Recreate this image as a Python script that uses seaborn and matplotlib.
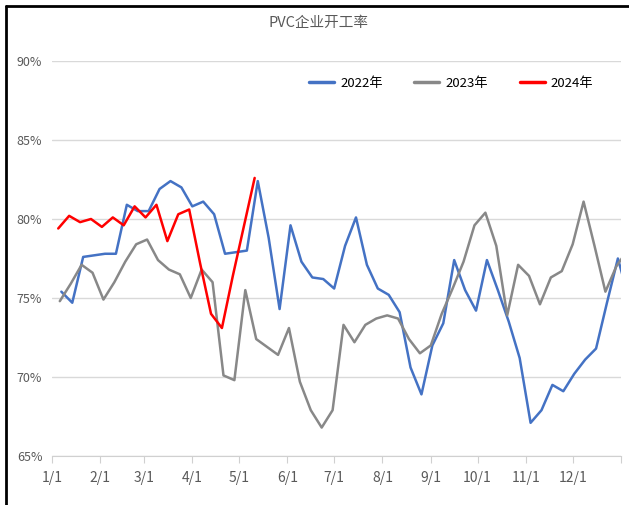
import numpy as np
import pandas as pd
import seaborn as sns
import matplotlib.pyplot as plt
from matplotlib.lines import Line2D

# weekly operating rate of PVC plants (%)
start_dates = {"2022年": "2022-01-07", "2023年": "2023-01-06", "2024年": "2024-01-05"}

rate_2022 = [75.4, 74.7, 77.6, 77.7, 77.8, 77.8, 80.9, 80.5, 80.5, 81.9,
             82.4, 82.0, 80.8, 81.1, 80.3, 77.8, 77.9, 78.0, 82.4, 78.8,
             74.3, 79.6, 77.3, 76.3, 76.2, 75.6, 78.3, 80.1, 77.1, 75.6,
             75.2, 74.1, 70.6, 68.9, 72.0, 73.4, 77.4, 75.5, 74.2, 77.4,
             75.5, 73.5, 71.2, 67.1, 67.9, 69.5, 69.1, 70.2, 71.1, 71.8,
             74.7, 77.5, 75.0]
rate_2023 = [74.8, 75.9, 77.1, 76.6, 74.9, 76.0, 77.3, 78.4, 78.7, 77.4,
             76.8, 76.5, 75.0, 76.8, 76.0, 70.1, 69.8, 75.5, 72.4, 71.9,
             71.4, 73.1, 69.7, 67.9, 66.8, 67.9, 73.3, 72.2, 73.3, 73.7,
             73.9, 73.7, 72.4, 71.5, 72.0, 74.0, 75.6, 77.3, 79.6, 80.4,
             78.3, 73.9, 77.1, 76.4, 74.6, 76.3, 76.7, 78.4, 81.1, 78.3,
             75.4, 77.0, 78.0]
rate_2024 = [79.4, 80.2, 79.8, 80.0, 79.5, 80.1, 79.6, 80.8, 80.1, 80.9,
             78.6, 80.3, 80.6, 77.2, 74.0, 73.1, 76.4, 79.5, 82.6]

series = {"2022年": rate_2022, "2023年": rate_2023, "2024年": rate_2024}
colors = {"2022年": "#4472C4", "2023年": "#888888", "2024年": "#FF0000"}

month_labels = ["1/1", "2/1", "3/1", "4/1", "5/1", "6/1",
                "7/1", "8/1", "9/1", "10/1", "11/1", "12/1"]

frames = []
for name, vals in series.items():
    d = pd.date_range(start_dates[name], periods=len(vals), freq="7D")
    year = int(name[:4])
    day = (d - pd.Timestamp(f"{year}-01-01")).days
    frames.append(pd.DataFrame({"day": day, "rate": vals, "year": name}))
df = pd.concat(frames, ignore_index=True)

sns.set_style("white")
plt.rcParams["font.family"] = ["Noto Sans CJK SC", "DejaVu Sans"]

fig = plt.figure(figsize=(6.29, 5.05), dpi=100)
ax = fig.add_axes([52 / 629, 49 / 505, 569 / 629, 395 / 505])

sns.lineplot(data=df, x="day", y="rate", hue="year", palette=colors,
             linewidth=1.8, sort=False, legend=False, ax=ax)

ax.set_xlim(0, 365)
ax.set_ylim(65, 90)
ax.set_yticks([65, 70, 75, 80, 85, 90])
ax.set_yticklabels([f"{v}%" for v in [65, 70, 75, 80, 85, 90]])
month_start = pd.date_range("2022-01-01", periods=12, freq="MS")
ax.set_xticks([(m - pd.Timestamp("2022-01-01")).days for m in month_start] + [365])
ax.set_xticklabels(month_labels + [""])
ax.grid(axis="y", color="#D9D9D9", linewidth=1)
ax.set_xlabel("")
ax.set_ylabel("")
for s in ["left", "right", "top"]:
    ax.spines[s].set_visible(False)
ax.spines["bottom"].set_color("#D0D0D0")
ax.tick_params(axis="x", direction="out", length=5, color="#D0D0D0",
               labelsize=10, labelcolor="#595959", pad=6, bottom=True)
ax.tick_params(axis="y", length=0, labelsize=9, labelcolor="#595959", pad=7)

handles = [Line2D([], [], color=colors[k], linewidth=2.5) for k in series]
fig.legend(handles, list(series.keys()), ncol=3, frameon=False,
           loc="center left", bbox_to_anchor=(309 / 629, 1 - 83 / 505),
           borderpad=0, borderaxespad=0, labelcolor="black",
           fontsize=9.5, handlelength=1.9, handletextpad=0.45, columnspacing=2.4)

fig.text(318 / 629, 1 - 23 / 505, "PVC企业开工率", ha="center", va="center",
         fontsize=10.5, color="#595959")

# outer frame (top and left edges visible)
fig.add_artist(Line2D([5.5 / 629, 5.5 / 629], [0, 1 - 5.5 / 505],
                      transform=fig.transFigure, color="black", linewidth=2))
fig.add_artist(Line2D([5.5 / 629, 1], [1 - 5.5 / 505, 1 - 5.5 / 505],
                      transform=fig.transFigure, color="black", linewidth=2))

fig.savefig("out.png", dpi=100)
